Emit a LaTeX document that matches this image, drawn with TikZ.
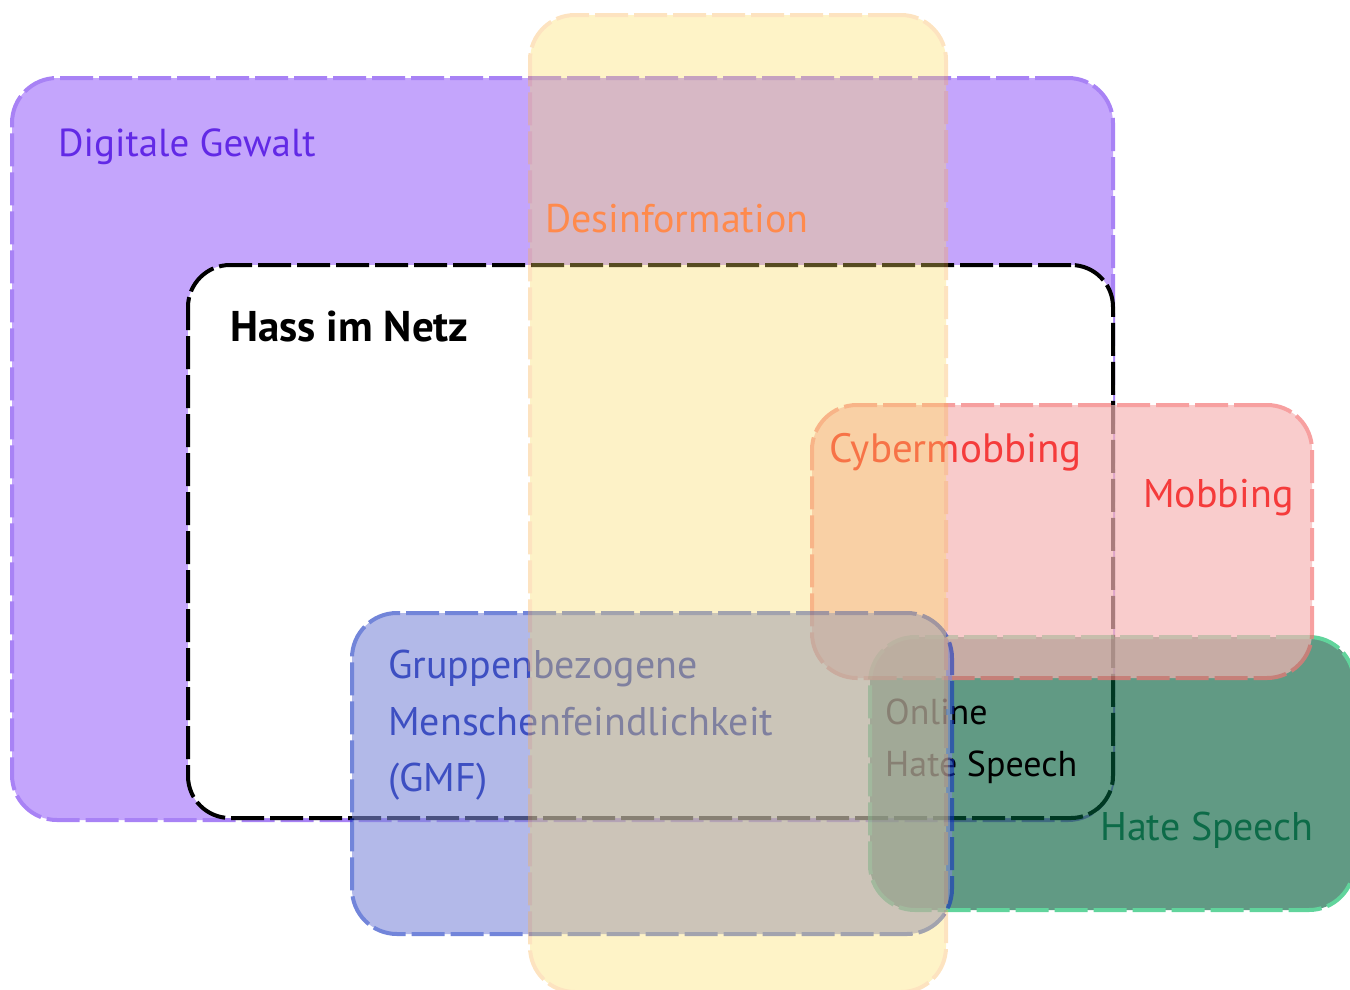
\documentclass[tikz,border=0pt]{standalone}
\usepackage{fontspec}
\setmainfont{PT Sans}
\definecolor{purpfill}{RGB}{196,165,252}
\definecolor{purpline}{RGB}{168,130,245}
\definecolor{purptext}{RGB}{98,41,230}
\definecolor{yelfill}{RGB}{252,220,95}
\definecolor{yelline}{RGB}{250,175,75}
\definecolor{destext}{RGB}{255,138,76}
\definecolor{pinkfill}{RGB}{246,181,181}
\definecolor{pinkline}{RGB}{243,117,117}
\definecolor{redtext}{RGB}{245,59,59}
\definecolor{bluefill}{RGB}{125,136,217}
\definecolor{blueline}{RGB}{16,48,192}
\definecolor{bluetext}{RGB}{61,79,194}
\definecolor{grnfill}{RGB}{0,92,57}
\definecolor{grnline}{RGB}{0,185,95}
\definecolor{grntext}{RGB}{13,107,72}
\begin{document}
\begin{tikzpicture}[x=1pt,y=-1pt,
  area/.style={rectangle, rounded corners=45pt, line width=4pt,
    dash pattern=on 33pt off 6pt, inner sep=0pt},
  lbl/.style={anchor=base west, inner sep=0pt, font=\fontsize{40}{48}\selectfont},
  small lbl/.style={lbl, font=\fontsize{36}{44}\selectfont},
  bold lbl/.style={lbl, font=\fontsize{43}{50}\selectfont\bfseries}]
\useasboundingbox (0,0) rectangle (1350,989);

% Digitale Gewalt
\node[area, fill=purpfill, draw=purpline, minimum width=1101pt, minimum height=742pt] (dg) at (562.5,449) {};
\node[lbl, text=purptext, font=\fontsize{39}{46}\selectfont] (dgt) at (58,156) {Digitale Gewalt};

% Hass im Netz
\node[area, rounded corners=42pt, fill=white, draw=black, minimum width=925pt, minimum height=553pt] (hin) at (650.5,541.5) {};
\node[bold lbl, text=black] (hint) at (230,341) {Hass im Netz};

% Hate Speech
\begin{scope}[transparency group, opacity=0.62]
\node[area, fill=grnfill, draw=grnline, minimum width=484pt, minimum height=273pt] (hs) at (1112,773.5) {};
\end{scope}
\node[small lbl, text=black] (ohs1) at (885,724) {Online};
\node[small lbl, text=black] (ohs2) at (885,776) {Hate Speech};
\node[lbl, text=grntext] (hst) at (1100,840) {Hate Speech};

% Mobbing
\begin{scope}[transparency group, opacity=0.69]
\node[area, fill=pinkfill, draw=pinkline, minimum width=500pt, minimum height=273pt] (mob) at (1062,541.5) {};
\end{scope}
\node[lbl, text=redtext, font=\fontsize{41}{48}\selectfont] (cyb) at (829,462) {Cybermobbing};
\node[lbl, text=redtext] (mobt) at (1143,507) {Mobbing};

% GMF
\begin{scope}[transparency group, opacity=0.59]
\node[area, fill=bluefill, draw=blueline, minimum width=600pt, minimum height=321pt] (gmf) at (652,773.5) {};
\end{scope}
\node[lbl, text=bluetext] (gmf1) at (388,678) {Gruppenbezogene};
\node[lbl, text=bluetext] (gmf2) at (388,735) {Menschenfeindlichkeit};
\node[lbl, text=bluetext] (gmf3) at (388,791) {(GMF)};

% Desinformation
\begin{scope}[transparency group, opacity=0.35]
\node[area, fill=yelfill, draw=yelline, minimum width=416pt, minimum height=977pt] (des) at (738,503.5) {};
\end{scope}
\node[lbl, text=destext] (dest) at (545,232) {Desinformation};
\end{tikzpicture}
\end{document}
